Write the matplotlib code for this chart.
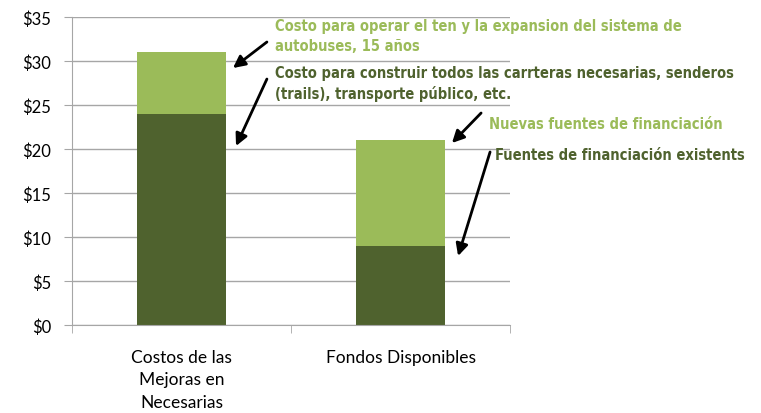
import numpy as np
import matplotlib.pyplot as plt
from matplotlib.ticker import FixedLocator

categories = ['Costos de las\nMejoras en\nNecesarias', 'Fondos Disponibles']
base_values = [24, 9]
top_values = [7, 12]
y_ticks = [0, 5, 10, 15, 20, 25, 30, 35]

dark = '#4f622e'
light = '#9bbb59'
grid_c = '#a6a6a6'

fig = plt.figure(figsize=(7.61, 4.14), dpi=100)
ax = fig.add_axes([72/761, 1-326/414, 438/761, 308/414])

x = np.arange(len(categories))
ax.bar(x, base_values, width=0.41, color=dark, zorder=2)
ax.bar(x, top_values, width=0.41, bottom=base_values, color=light, zorder=2)

ax.set_xlim(-0.5, 1.5)
ax.set_ylim(0, 35)
ax.set_yticks(y_ticks)
ax.set_yticklabels(['$%d' % v for v in y_ticks], fontsize=12, family='Lato')
ax.yaxis.grid(True, color=grid_c, lw=1, zorder=0)
ax.set_xticks(x)
ax.set_xticklabels(categories, fontsize=12.5, family='Lato', linespacing=1.5)
ax.tick_params(axis='x', length=0, pad=17)
ax.xaxis.set_minor_locator(FixedLocator([-0.5, 0.5, 1.5]))
ax.tick_params(axis='x', which='minor', length=6, color=grid_c, direction='out')
ax.tick_params(axis='y', length=6, color=grid_c, pad=9)
for s in ['top', 'right']:
    ax.spines[s].set_visible(False)
for s in ['left', 'bottom']:
    ax.spines[s].set_color(grid_c)

fnt = dict(family='DejaVu Sans', fontstretch='condensed', fontweight='bold', fontsize=10.5)
ax.text(0.427, 32.9, 'Costo para operar el ten y la expansion del sistema de\nautobuses, 15 años',
        color=light, va='center', ha='left', linespacing=1.45, **fnt)
ax.text(0.427, 27.5, 'Costo para construir todos las carrteras necesarias, senderos\n(trails), transporte público, etc.',
        color=dark, va='center', ha='left', linespacing=1.45, **fnt)
ax.text(1.404, 22.95, 'Nuevas fuentes de financiación', color=light, va='center', ha='left', **fnt)
ax.text(1.432, 19.43, 'Fuentes de financiación existents', color=dark, va='center', ha='left', **fnt)

arrows = [((0.39, 32.16), (0.235, 29.2)),
          ((0.39, 27.95), (0.249, 20.34)),
          ((1.368, 24.09), (1.235, 20.68)),
          ((1.409, 19.66), (1.263, 7.84))]
for tail, head in arrows:
    ax.annotate('', xy=head, xytext=tail, annotation_clip=False,
                arrowprops=dict(arrowstyle='-|>', lw=2, color='black', mutation_scale=18,
                                shrinkA=0, shrinkB=0))

fig.savefig('out.png', dpi=100)
